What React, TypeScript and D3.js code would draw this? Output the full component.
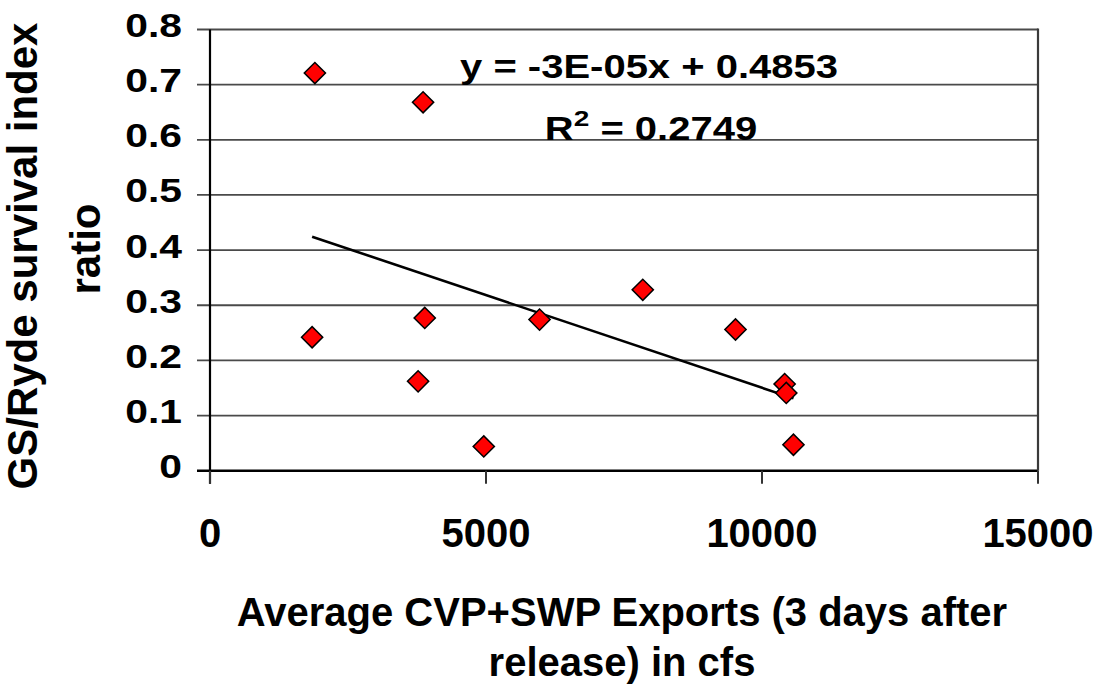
import { useMemo } from "react";
import * as d3 from "d3";

const WIDTH = 1099;
const HEIGHT = 686;
const PLOT = { left: 210, right: 1038, top: 29.5, bottom: 470.7 };
const FONT = '"Liberation Sans", Arial, sans-serif';

const exportsCfs = [1900, 3860, 1850, 3890, 5970, 3770, 4960, 7840, 9520, 10410, 10440, 10570];
const survivalRatio = [0.721, 0.668, 0.242, 0.277, 0.274, 0.162, 0.044, 0.328, 0.256, 0.157, 0.141, 0.047];

const xTicks = [0, 5000, 10000, 15000];
const yTicks = [0, 0.1, 0.2, 0.3, 0.4, 0.5, 0.6, 0.7, 0.8];

const equationText = "y = -3E-05x + 0.4853";
const rSquaredValue = " = 0.2749";
const xTitle = ["Average CVP+SWP Exports (3 days after", "release) in cfs"];
const yTitle = ["GS/Ryde survival index", "ratio"];

const TICK = 13;

export default function App() {
  const xScale = useMemo(
    () => d3.scaleLinear().domain([0, 15000]).range([PLOT.left, PLOT.right]),
    []
  );
  const yScale = useMemo(
    () => d3.scaleLinear().domain([0, 0.8]).range([PLOT.bottom, PLOT.top]),
    []
  );

  // least squares fit, drawn between the smallest and largest x
  const trend = useMemo(() => {
    const mx = d3.mean(exportsCfs)!;
    const my = d3.mean(survivalRatio)!;
    let sxy = 0;
    let sxx = 0;
    exportsCfs.forEach((x, i) => {
      sxy += (x - mx) * (survivalRatio[i] - my);
      sxx += (x - mx) * (x - mx);
    });
    const slope = sxy / sxx;
    const intercept = my - slope * mx;
    const [x0, x1] = d3.extent(exportsCfs) as [number, number];
    return [x0, x1].map((x) => [x, intercept + slope * x] as [number, number]);
  }, []);

  const linePath = d3
    .line<[number, number]>()
    .x((d) => xScale(d[0]))
    .y((d) => yScale(d[1]))(trend);

  const diamond = d3.symbol().type(d3.symbolSquare).size(225)();

  return (
    <svg
      width={WIDTH}
      height={HEIGHT}
      style={{ position: "absolute", left: 0, top: 0, background: "#fff" }}
      fontFamily={FONT}
      fontWeight="bold"
    >
      {/* gridlines + left ticks */}
      {yTicks.map((t) => (
        <line
          key={"g" + t}
          x1={PLOT.left - TICK}
          x2={PLOT.right}
          y1={yScale(t)}
          y2={yScale(t)}
          stroke={t === 0 ? "#000" : "#4a4a4a"}
          strokeWidth={t === 0 ? 2.5 : 1.8}
        />
      ))}
      {/* left axis */}
      <line x1={PLOT.left} x2={PLOT.left} y1={PLOT.top} y2={PLOT.bottom + TICK} stroke="#000" strokeWidth={2.2} />
      {/* right border */}
      <line x1={PLOT.right} x2={PLOT.right} y1={PLOT.top - 1} y2={PLOT.bottom} stroke="#3a3a3a" strokeWidth={2.2} />
      {xTicks.map((t) => (
        <line
          key={"xt" + t}
          x1={xScale(t)}
          x2={xScale(t)}
          y1={PLOT.bottom}
          y2={PLOT.bottom + TICK}
          stroke="#333"
          strokeWidth={2}
        />
      ))}

      {/* y tick labels */}
      {yTicks.map((t) => (
        <text
          key={"yl" + t}
          transform={`translate(182,${yScale(t) + 7.5}) scale(1.02,0.82)`}
          textAnchor="end"
          fontSize={40}
        >
          {t === 0 ? "0" : t.toFixed(1)}
        </text>
      ))}

      {/* x tick labels */}
      {xTicks.map((t) => (
        <text key={"xl" + t} x={xScale(t)} y={546.5} textAnchor="middle" fontSize={40}>
          {t}
        </text>
      ))}

      {/* trend line */}
      <path d={linePath ?? ""} fill="none" stroke="#000" strokeWidth={2.6} />

      {/* points */}
      {exportsCfs.map((x, i) => (
        <path
          key={"p" + i}
          d={diamond ?? ""}
          transform={`translate(${xScale(x)},${yScale(survivalRatio[i])}) rotate(45)`}
          fill="#ff0000"
          stroke="#000"
          strokeWidth={1.5}
        />
      ))}

      {/* equation */}
      <text transform="translate(649,78) scale(1,0.82)" textAnchor="middle" fontSize={40}>
        {equationText}
      </text>
      <text transform="translate(651,140) scale(1,0.82)" textAnchor="middle" fontSize={40}>
        R<tspan fontSize={28} dy={-17}>2</tspan>
        <tspan dy={17}>{rSquaredValue}</tspan>
      </text>

      {/* axis titles */}
      <text x={622} y={626} textAnchor="middle" fontSize={40}>
        {xTitle[0]}
      </text>
      <text x={622} y={676} textAnchor="middle" fontSize={40}>
        {xTitle[1]}
      </text>
      <text transform="translate(37,256) rotate(-90)" textAnchor="middle" fontSize={42}>
        {yTitle[0]}
      </text>
      <text transform="translate(100,249) rotate(-90)" textAnchor="middle" fontSize={42}>
        {yTitle[1]}
      </text>
    </svg>
  );
}
